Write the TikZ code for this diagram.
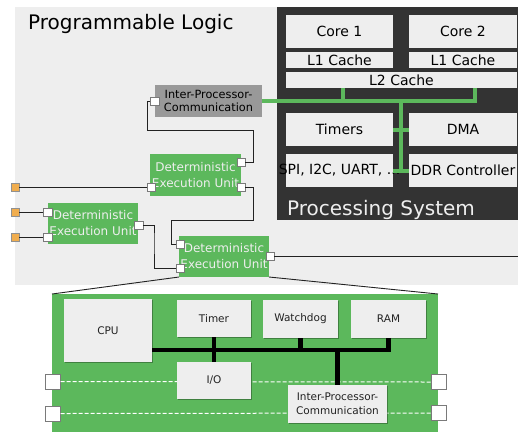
\documentclass[tikz,border=0pt]{standalone}
\usepackage{fontspec}
\setmainfont{DejaVu Sans}
\usetikzlibrary{shadows}

\definecolor{plgray}{HTML}{EEEEEE}
\definecolor{psdark}{HTML}{333333}
\definecolor{deugreen}{HTML}{5CB85C}
\definecolor{ioorange}{HTML}{F0AD4E}
\definecolor{ipcgray}{HTML}{999999}
\definecolor{wirecol}{HTML}{222222}

\begin{document}
\begin{tikzpicture}[x=1pt,y=-1pt,
  blk/.style={anchor=north west, inner sep=0pt, outer sep=0pt},
  psbox/.style={blk, fill=plgray, text=black, font=\fontsize{14}{16}\selectfont},
  deubox/.style={blk, fill=deugreen, text=plgray, align=center, font=\fontsize{12}{16}\selectfont,
    minimum width=91pt, minimum height=42pt},
  ipcbox/.style={blk, fill=ipcgray, text=black, align=center, font=\fontsize{11.3}{13}\selectfont},
  innerbox/.style={blk, fill=plgray, text=wirecol, align=center, font=\fontsize{10.5}{14}\selectfont,
    drop shadow={shadow xshift=1pt, shadow yshift=-1pt, opacity=0.3, fill=black}},
  port/.style={draw=wirecol!60, line width=0.3pt, fill=white, minimum size=8.5pt, inner sep=0pt,
    drop shadow={shadow xshift=0.8pt, shadow yshift=-0.8pt, opacity=0.35, fill=black}},
  bigport/.style={port, minimum size=15pt},
  extpin/.style={draw=wirecol!50, line width=0.3pt, fill=ioorange, minimum size=8pt, inner sep=0pt,
    drop shadow={shadow xshift=0.8pt, shadow yshift=-0.8pt, opacity=0.35, fill=black}},
  wire/.style={draw=wirecol, line width=0.9pt},
  gbus/.style={draw=deugreen, line width=4pt},
  kbus/.style={draw=black, line width=4.5pt},
  dashwire/.style={draw=white, line width=1pt, dash pattern=on 4pt off 2pt},
]
\useasboundingbox (0,0) rectangle (518,432);

% Programmable logic area and processing system
\fill[plgray] (15,7) rectangle (518,285);
\node[anchor=base west, inner sep=0pt, font=\fontsize{20}{24}\selectfont] (pltitle) at (28,29) {Programmable Logic};
\fill[psdark] (277,7) rectangle (518,220);
\node[anchor=base west, inner sep=0pt, text=plgray, font=\fontsize{20}{24}\selectfont] (pstitle) at (287,215) {Processing System};

\node[psbox, minimum width=107pt, minimum height=33pt] (core1) at (286,15) {Core 1};
\node[psbox, minimum width=108pt, minimum height=33pt] (core2) at (409,15) {Core 2};
\node[psbox, minimum width=107pt, minimum height=16pt] (l1a) at (286,52) {L1 Cache};
\node[psbox, minimum width=108pt, minimum height=16pt] (l1b) at (409,52) {L1 Cache};
\node[psbox, minimum width=231pt, minimum height=16pt] (l2) at (286,72) {L2 Cache};
\node[psbox, minimum width=107pt, minimum height=33pt] (timers) at (286,113) {Timers};
\node[psbox, minimum width=108pt, minimum height=33pt] (dma) at (409,113) {DMA};
\node[psbox, minimum width=107pt, minimum height=33pt] (spi) at (286,154) {\makebox[0pt][c]{SPI, I2C, UART, ...}};
\node[psbox, minimum width=108pt, minimum height=33pt] (ddr) at (409,154) {\makebox[0pt][c]{DDR Controller}};

% Inter-processor communication block in the fabric
\node[ipcbox, minimum width=107pt, minimum height=32pt] (ipc) at (155,85) {Inter-Processor-\\Communication};

% Green system bus
\coordinate (gb1) at (343,101);
\coordinate (gb2) at (475,101);
\coordinate (gb3) at (401,101);
\coordinate (gb4) at (401,170.5);
\draw[gbus] (ipc.east) -- (gb2) -- (gb2 |- l2.south);
\draw[gbus] (gb1) -- (gb1 |- l2.south);
\draw[gbus] (gb3) -- (gb4);
\draw[gbus] (timers.east) -- (dma.west);
\draw[gbus] (spi.east) -- (ddr.west);

% Deterministic execution units
\node[deubox] (deu1) at (150,154) {Deterministic\\Execution Unit};
\node[deubox, minimum width=90pt, minimum height=41pt] (deu2) at (48,203) {Deterministic\\Execution Unit};
\node[deubox, minimum width=90pt, minimum height=41pt] (deu3) at (179,236) {Deterministic\\Execution Unit};

% Pins and ports
\node[extpin] (o1) at (15,187) {};
\node[extpin] (o2) at (15,212) {};
\node[extpin] (o3) at (15,237) {};

\coordinate (w1) at (147,130);
\coordinate (w2) at (253,130);
\coordinate (w3) at (253,220);
\coordinate (w4) at (171,220);
\coordinate (w5) at (154,240);
\coordinate (w6) at (518,0);

\coordinate (ipcpc) at (154.5,101);
\coordinate (d1ac) at (241,162);
\coordinate (d1bc) at (151,187);
\coordinate (d1cc) at (241,187);
\coordinate (d2ac) at (47.5,212);
\coordinate (d2bc) at (47.5,237);
\coordinate (d2cc) at (138.5,225);
\coordinate (d3ac) at (180,244);
\coordinate (d3bc) at (180,268);
\coordinate (d3cc) at (270,256);

\node[port] (ipcp) at (ipcpc) {};
\node[port] (d1a) at (d1ac) {};
\node[port] (d1b) at (d1bc) {};
\node[port] (d1c) at (d1cc) {};
\node[port] (d2a) at (d2ac) {};
\node[port] (d2b) at (d2bc) {};
\node[port] (d2c) at (d2cc) {};
\node[port] (d3a) at (d3ac) {};
\node[port] (d3b) at (d3bc) {};
\node[port] (d3c) at (d3cc) {};

% Wiring between units
\draw[wire] (ipcp.west) -| (w1) -- (w2) |- (d1a.east);
\draw[wire] (o1.east) -- (d1b.west);
\draw[wire] (o2.east) -- (d2a.west);
\draw[wire] (o3.east) -- (d2b.west);
\draw[wire] (d1c.east) -| (w3) -- (w4) |- (d3a.west);
\draw[wire] (d2c.east) -| (w5) |- (d3b.west);
\draw[wire] (d3c.east) -- (d3c.east -| w6);

% Detail view of one execution unit
\node[blk, fill=deugreen, minimum width=386pt, minimum height=138pt] (detail) at (52,294) {};
\draw[wire] (deu3.south west) -- (detail.north west);
\draw[wire] (deu3.south east) -- (detail.north east);

\node[bigport] (dl1) at (53,381.5) {};
\node[bigport] (dl2) at (53,413.5) {};
\node[bigport] (dr1) at (438.5,382) {};
\node[bigport] (dr2) at (438.5,413) {};
\draw[dashwire] (dl1.east) -- (dr1.west);
\draw[dashwire] (dl2.east) -- (dr2.west);

\node[innerbox, minimum width=88pt, minimum height=63pt] (cpu) at (64,299) {CPU};
\node[innerbox, minimum width=74pt, minimum height=37pt] (timer) at (177,300) {Timer};
\node[innerbox, minimum width=75pt, minimum height=38pt] (wdog) at (263,300) {Watchdog};
\node[innerbox, minimum width=75pt, minimum height=38pt] (ram) at (351,300) {RAM};
\node[innerbox, minimum width=74pt, minimum height=37pt] (io) at (177,362) {I/O};
\node[innerbox, minimum width=99pt, minimum height=38pt] (ipc2) at (288,385) {Inter-Processor-\\Communication};

% Local bus
\coordinate (by) at (0,350);
\draw[kbus] (cpu.east |- by) -- (ram.south |- by) -- (ram.south);
\draw[kbus] (wdog.south) -- (wdog.south |- by);
\draw[kbus] (timer.south) -- (io.north);
\draw[kbus] (ipc2.north |- by) -- (ipc2.north);
\end{tikzpicture}
\end{document}
